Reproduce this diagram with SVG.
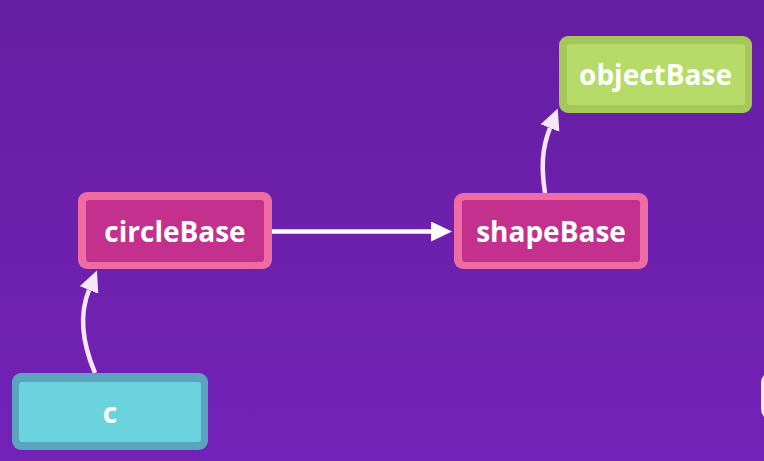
<svg xmlns="http://www.w3.org/2000/svg" width="764" height="461" viewBox="0 0 764 461">
  <defs>
    <linearGradient id="bg" x1="0" y1="0" x2="0" y2="1">
      <stop offset="0" stop-color="#661EA3"/>
      <stop offset="1" stop-color="#7322B7"/>
    </linearGradient>
    <marker id="ahW" markerUnits="userSpaceOnUse" markerWidth="22" markerHeight="22" refX="0" refY="10" orient="auto">
      <path d="M0,0 L21,10 L0,20 Z" fill="#FFFFFF"/>
    </marker>
    <marker id="ahP" markerUnits="userSpaceOnUse" markerWidth="22" markerHeight="22" refX="0" refY="10" orient="auto">
      <path d="M0,0 L21,10 L0,20 Z" fill="#F7E6FB"/>
    </marker>
  </defs>
  <style>
    .lbl { font-family: "Open Sans", "Noto Sans", "Liberation Sans", sans-serif; font-weight: 700; font-size: 28px; fill: #FFFFFF; text-anchor: middle; }
    .pinkO { fill: #EF6BA3; }
    .pinkI { fill: #C4308E; }
    .greenO { fill: #A6C85B; }
    .greenI { fill: #B6DB68; }
    .cyanO { fill: #5BA4C0; }
    .cyanI { fill: #6AD3DD; }
    .edge { fill: none; stroke-width: 4.5; }
  </style>
  <rect x="0" y="0" width="764" height="461" fill="url(#bg)"/>

  <g id="connectors">
    <line class="edge" x1="272" y1="231.5" x2="431" y2="231.5" stroke="#FFFFFF" marker-end="url(#ahW)"/>
    <path class="edge" d="M95,373 C81,340 80,312 89,290" stroke="#F7E6FB" marker-end="url(#ahP)"/>
    <path class="edge" d="M545,193 C541,167 542,148 550,128" stroke="#F7E6FB" marker-end="url(#ahP)"/>
  </g>

  <g id="node-objectBase">
    <rect class="greenO" x="559" y="36" width="193" height="77" rx="9"/>
    <rect class="greenI" x="567" y="44" width="178" height="61" rx="3"/>
    <text class="lbl" x="655.5" y="85">objectBase</text>
  </g>

  <g id="node-circleBase">
    <rect class="pinkO" x="78" y="192" width="194" height="77" rx="9"/>
    <rect class="pinkI" x="86" y="200" width="178" height="62" rx="3"/>
    <text class="lbl" x="175" y="242">circleBase</text>
  </g>

  <g id="node-shapeBase">
    <rect class="pinkO" x="454" y="193" width="194" height="76" rx="9"/>
    <rect class="pinkI" x="462" y="200" width="178" height="62" rx="3"/>
    <text class="lbl" x="551" y="242">shapeBase</text>
  </g>

  <g id="node-c">
    <rect class="cyanO" x="12" y="373" width="196" height="77" rx="9"/>
    <rect class="cyanI" x="19" y="382" width="182" height="60" rx="3"/>
    <text class="lbl" x="110" y="423">c</text>
  </g>

  <g id="edge-partial">
    <rect x="761" y="371" width="40" height="50" rx="12" fill="#F4ECFA"/>
  </g>
</svg>
